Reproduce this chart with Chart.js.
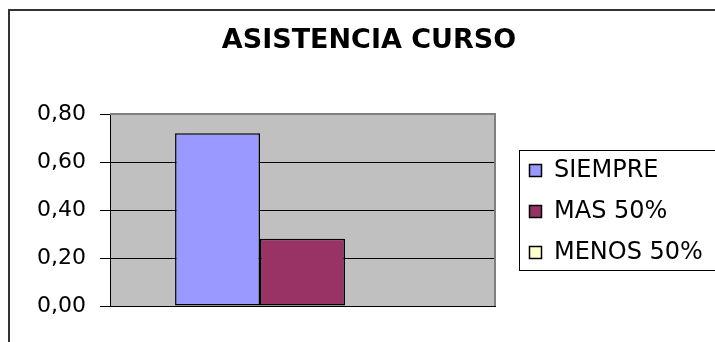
<!DOCTYPE html>
<html>
<head>
<meta charset="utf-8">
<script src="https://cdn.jsdelivr.net/npm/chart.js@4.4.0/dist/chart.umd.min.js"></script>
<style>
  html, body { margin: 0; padding: 0; background: #fff; }
  #wrap { width: 715px; height: 342px; position: relative; }
</style>
</head>
<body>
<div id="wrap"><canvas id="asistencia"></canvas></div>
<script>
// data
const chartTitle = 'ASISTENCIA CURSO';
const categories = [''];
const seriesNames = ['SIEMPRE', 'MAS 50%', 'MENOS 50%'];
const seriesValues = [[0.72], [0.28], [0]];
const seriesColors = ['#9999FF', '#993366', '#FFFFCC'];
const yTicks = [0, 0.2, 0.4, 0.6, 0.8];

const FONT = "'DejaVu Sans', 'Liberation Sans', Arial, sans-serif";

// outer frame, plot background, title and legend drawn Excel style
const excelLook = {
    id: 'excelLook',
    beforeDraw(chart) {
        const ctx = chart.ctx;
        const a = chart.chartArea;
        ctx.save();
        ctx.fillStyle = '#C0C0C0';
        ctx.fillRect(a.left, a.top, a.right - a.left, a.bottom - a.top);
        // frame of the chart object (cut off right and bottom)
        ctx.strokeStyle = '#333';
        ctx.lineWidth = 2;
        ctx.beginPath();
        ctx.moveTo(9, 342);
        ctx.lineTo(9, 10);
        ctx.lineTo(715, 10);
        ctx.stroke();
        ctx.restore();
    },
    afterDatasetsDraw(chart) {
        const ctx = chart.ctx;
        const a = chart.chartArea;
        ctx.save();
        ctx.strokeStyle = '#808080';
        ctx.lineWidth = 2;
        ctx.beginPath();
        ctx.moveTo(a.left, a.top);
        ctx.lineTo(a.right, a.top);
        ctx.lineTo(a.right, a.bottom);
        ctx.stroke();

        // title
        ctx.fillStyle = '#000';
        ctx.font = 'bold 27px ' + FONT;
        ctx.textAlign = 'center';
        ctx.textBaseline = 'middle';
        ctx.fillText(chartTitle, 369, 41);

        // legend
        ctx.strokeStyle = '#000';
        ctx.lineWidth = 1;
        ctx.strokeRect(519.5, 150.5, 220, 120);
        ctx.font = '24px ' + FONT;
        ctx.textAlign = 'left';
        chart.data.datasets.forEach((ds, i) => {
            const y = 171 + i * 41;
            ctx.fillStyle = ds.backgroundColor;
            ctx.fillRect(529.5, y - 6.5, 12, 12);
            ctx.lineWidth = 1.5;
            ctx.strokeRect(529.5, y - 6.5, 12, 12);
            ctx.fillStyle = '#000';
            ctx.fillText(ds.label, 554, y);
        });
        ctx.restore();
    }
};

new Chart(document.getElementById('asistencia'), {
    type: 'bar',
    data: {
        labels: categories,
        datasets: seriesNames.map((name, i) => ({
            label: name,
            data: seriesValues[i],
            backgroundColor: seriesColors[i],
            borderColor: '#000',
            borderWidth: 1.5,
            borderSkipped: false,
            categoryPercentage: 0.662,
            barPercentage: 1
        }))
    },
    options: {
        responsive: true,
        maintainAspectRatio: false,
        animation: false,
        layout: { padding: { left: 0, top: 114, right: 220, bottom: 36 } },
        plugins: {
            legend: { display: false },
            title: { display: false },
            tooltip: { enabled: false }
        },
        scales: {
            x: {
                ticks: { display: false },
                grid: { display: false },
                border: { color: '#000', width: 1 },
                afterFit(scale) { scale.height = 0; }
            },
            y: {
                min: 0,
                max: 0.8,
                afterBuildTicks(scale) {
                    scale.ticks = yTicks.map(v => ({ value: v }));
                },
                ticks: {
                    color: '#000',
                    padding: 14,
                    font: { family: FONT, size: 22 },
                    callback: v => v.toFixed(2).replace('.', ',')
                },
                grid: {
                    color: '#000',
                    lineWidth: 1,
                    tickLength: 10,
                    drawTicks: true
                },
                border: { color: '#000', width: 1 },
                afterFit(scale) { scale.width = 110; }
            }
        }
    },
    plugins: [excelLook]
});
</script>
</body>
</html>
